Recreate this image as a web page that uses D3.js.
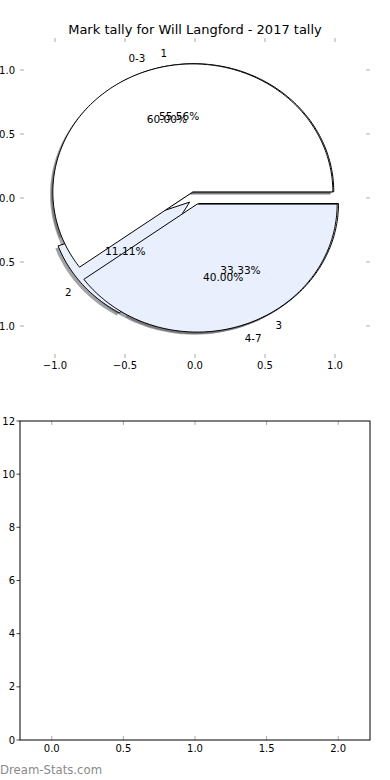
<!DOCTYPE html>
<html>
  <head>
    <title>Mark tally for Will Langford - 2017 tally</title>
    <style>
      body {
        margin: 0;
        padding: 0;
        background: #ffffff;
      }
      svg {
        display: block;
        font-family: "DejaVu Sans", sans-serif;
      }
    </style>
    <script src="https://cdnjs.cloudflare.com/ajax/libs/d3/7.8.5/d3.min.js"></script>
  </head>
  <body>
    <svg width="390" height="780"></svg>
    <script>
      // Datos de las dos tartas
      const pie1Labels = ['1', '2', '3'];
      const pie1Values = [5, 1, 3];
      const pie2Labels = ['0-3', '4-7'];
      const pie2Values = [3, 2];
      const pieColors = ['#ffffff', '#e9effc'];

      // Ticks
      const pieTicks = [-1.0, -0.5, 0.0, 0.5, 1.0];
      const barXTicks = [0.0, 0.5, 1.0, 1.5, 2.0];
      const barYTicks = [0, 2, 4, 6, 8, 10, 12];

      const title = 'Mark tally for Will Langford - 2017 tally';

      const svg = d3.select('svg');
      const fmt = d3.format('.1f');
      const minus = s => s.replace('-', '\u2212');

      // Escalas del gráfico de tarta
      const xPie = d3.scaleLinear().domain([-1.25, 1.25]).range([20, 370]);
      const yPie = d3.scaleLinear().domain([-1.25, 1.25]).range([358, 38]);

      // Escalas del gráfico vacío de abajo
      const xBar = d3.scaleLinear().domain([-0.222, 2.222]).range([20, 370]);
      const yBar = d3.scaleLinear().domain([0, 12]).range([740, 421]);

      const explode = 0.05;
      const toRad = Math.PI / 180;

      // Puntos de una cuña en coordenadas de datos
      function wedgePoints(cx, cy, t1, t2) {
        const pts = [[cx, cy]];
        const n = Math.max(4, Math.ceil(t2 - t1));
        for (let i = 0; i <= n; i++) {
          const t = (t1 + (t2 - t1) * i / n) * toRad;
          pts.push([cx + Math.cos(t), cy + Math.sin(t)]);
        }
        pts.push([cx, cy]);
        return pts;
      }

      const line = d3.line()
        .x(d => xPie(d[0]))
        .y(d => yPie(d[1]));

      function buildPie(labels, values) {
        const total = d3.sum(values);
        let theta = 0;
        return values.map((v, i) => {
          const t1 = theta;
          const t2 = theta + 360 * v / total;
          theta = t2;
          const tm = (t1 + t2) / 2 * toRad;
          const cx = explode * Math.cos(tm);
          const cy = explode * Math.sin(tm);
          return {
            label: labels[i],
            pct: (100 * v / total).toFixed(2) + '%',
            color: pieColors[i % pieColors.length],
            pts: wedgePoints(cx, cy, t1, t2),
            shadow: wedgePoints(cx - 0.02, cy - 0.02, t1, t2),
            lx: cx + 1.1 * Math.cos(tm),
            ly: cy + 1.1 * Math.sin(tm),
            px: cx + 0.6 * Math.cos(tm),
            py: cy + 0.6 * Math.sin(tm)
          };
        });
      }

      const pies = [buildPie(pie1Labels, pie1Values), buildPie(pie2Labels, pie2Values)];
      const allWedges = pies.flat();

      // Sombras (debajo de todo)
      svg.append('g')
        .selectAll('path')
        .data(allWedges)
        .enter()
        .append('path')
        .attr('d', d => line(d.shadow))
        .attr('fill', d => {
          const c = d3.rgb(d.color);
          return d3.rgb(c.r * 0.3, c.g * 0.3, c.b * 0.3);
        })
        .attr('stroke', 'none')
        .attr('opacity', 0.5);

      // Cuñas
      svg.append('g')
        .selectAll('path')
        .data(allWedges)
        .enter()
        .append('path')
        .attr('d', d => line(d.pts))
        .attr('fill', d => d.color)
        .attr('stroke', '#000')
        .attr('stroke-width', 1)
        .attr('stroke-linejoin', 'miter');

      // Textos de las tartas
      const texts = svg.append('g').attr('fill', '#000');
      allWedges.forEach(d => {
        texts.append('text')
          .attr('x', xPie(d.lx))
          .attr('y', yPie(d.ly))
          .attr('dy', '0.36em')
          .attr('font-size', 10.3)
          .attr('text-anchor', d.lx > 0 ? 'start' : 'end')
          .text(d.label);
        texts.append('text')
          .attr('x', xPie(d.px))
          .attr('y', yPie(d.py))
          .attr('dy', '0.36em')
          .attr('font-size', 10.6)
          .attr('text-anchor', 'middle')
          .text(d.pct);
      });

      // Título
      svg.append('text')
        .attr('x', xPie(0))
        .attr('y', 34)
        .attr('text-anchor', 'middle')
        .attr('font-size', 13)
        .attr('fill', '#000')
        .text(title);

      // Ticks del gráfico de tarta (sin marco)
      const tickColor = '#aaaaaa';
      const pieAxis = svg.append('g');
      pieTicks.forEach(t => {
        pieAxis.append('line')
          .attr('x1', xPie(t)).attr('x2', xPie(t))
          .attr('y1', 38).attr('y2', 42)
          .attr('stroke', tickColor);
        pieAxis.append('line')
          .attr('x1', xPie(t)).attr('x2', xPie(t))
          .attr('y1', 354).attr('y2', 358)
          .attr('stroke', tickColor);
        pieAxis.append('line')
          .attr('x1', 20).attr('x2', 24)
          .attr('y1', yPie(t)).attr('y2', yPie(t))
          .attr('stroke', tickColor);
        pieAxis.append('line')
          .attr('x1', 366).attr('x2', 370)
          .attr('y1', yPie(t)).attr('y2', yPie(t))
          .attr('stroke', tickColor);
        pieAxis.append('text')
          .attr('x', xPie(t))
          .attr('y', 369)
          .attr('text-anchor', 'middle')
          .attr('font-size', 10)
          .text(minus(fmt(t)));
        pieAxis.append('text')
          .attr('x', 15)
          .attr('y', yPie(t))
          .attr('dy', '0.36em')
          .attr('text-anchor', 'end')
          .attr('font-size', 10)
          .text(minus(fmt(t)));
      });

      // Gráfico vacío de abajo
      const barAxis = svg.append('g');
      barXTicks.forEach(t => {
        barAxis.append('line')
          .attr('x1', xBar(t)).attr('x2', xBar(t))
          .attr('y1', 421).attr('y2', 425)
          .attr('stroke', tickColor);
        barAxis.append('line')
          .attr('x1', xBar(t)).attr('x2', xBar(t))
          .attr('y1', 736).attr('y2', 740)
          .attr('stroke', tickColor);
        barAxis.append('text')
          .attr('x', xBar(t))
          .attr('y', 752)
          .attr('text-anchor', 'middle')
          .attr('font-size', 10)
          .text(fmt(t));
      });
      barYTicks.forEach(t => {
        barAxis.append('line')
          .attr('x1', 16.5).attr('x2', 20)
          .attr('y1', yBar(t)).attr('y2', yBar(t))
          .attr('stroke', '#444');
        barAxis.append('text')
          .attr('x', 15)
          .attr('y', yBar(t))
          .attr('dy', '0.36em')
          .attr('text-anchor', 'end')
          .attr('font-size', 10)
          .text(t);
      });
      barAxis.append('rect')
        .attr('x', xBar(-0.222))
        .attr('y', yBar(12))
        .attr('width', xBar(2.222) - xBar(-0.222))
        .attr('height', yBar(0) - yBar(12))
        .attr('fill', 'none')
        .attr('stroke', '#000')
        .attr('stroke-width', 1);

      // Marca de agua
      svg.append('text')
        .attr('x', 0)
        .attr('y', 774)
        .attr('font-size', 11.7)
        .attr('fill', '#8a8a8a')
        .text('Dream-Stats.com');
    </script>
  </body>
</html>
